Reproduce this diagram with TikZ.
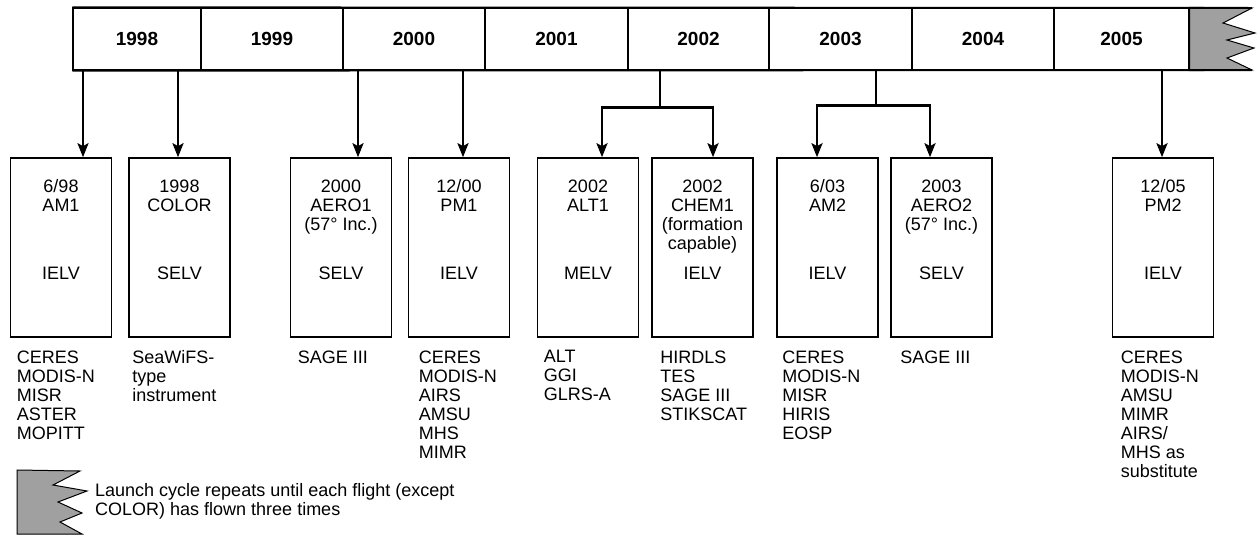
\documentclass[tikz,border=0pt]{standalone}
\usepackage{fontspec}
\setmainfont{Liberation Sans}
\usetikzlibrary{arrows.meta}
\definecolor{flaggray}{RGB}{160,160,160}
\tikzset{
  ycell/.style={draw, line width=1.3pt, minimum height=62pt, inner sep=0pt,
    font=\fontsize{19}{20}\selectfont\bfseries},
  fbox/.style={draw, line width=1.6pt, minimum width=101pt, minimum height=179pt, inner sep=0pt},
  toptxt/.style={inner sep=0pt, align=center, font=\fontsize{18}{19}\selectfont},
  listtxt/.style={inner sep=0pt, align=left, font=\fontsize{18}{19}\selectfont},
  conn/.style={line width=2.6pt},
  arr/.style={line width=2.6pt, -{Stealth[length=14pt,width=11pt,inset=3pt]}},
  flagshape/.style={fill=flaggray, draw, line width=1pt, line join=miter}
}
\newcommand\flightbox[6]{%
  \node[fbox] (#1) at (#2,247.5) {};
  \node[toptxt, anchor=north] (#1t) at ([yshift=-22.5pt]#1.north) {#3};
  \node[toptxt] (#1m) at ([yshift=-25.5pt]#1.center) {#4};
  \node[listtxt, anchor=north west] (#1l) at ([xshift=#5pt,yshift=-12.5pt]#1.south west) {#6};
}
\begin{document}
\begin{tikzpicture}[x=1pt, y=-1pt]
\useasboundingbox (0,0) rectangle (1259,536);
% timeline bar
\node[ycell, minimum width=128pt] (y1998) at (137,39) {1998};
\node[ycell, minimum width=142pt] (y1999) at (272,39) {1999};
\node[ycell, minimum width=142pt] (y2000) at (414,39) {2000};
\node[ycell, minimum width=143pt] (y2001) at (556.5,39) {2001};
\node[ycell, minimum width=141pt] (y2002) at (698.5,39) {2002};
\node[ycell, minimum width=143pt] (y2003) at (840.5,39) {2003};
\node[ycell, minimum width=142pt] (y2004) at (983,39) {2004};
\node[ycell, minimum width=135pt] (y2005) at (1121.5,39) {2005};
\filldraw[flagshape] (y2005.north east) -- (1252,8) -- (1223,23) -- (1255,33) -- (1227,40)
  -- (1254,48) -- (1227,58) -- (1252,70) -- (y2005.south east) -- cycle;
\draw[line width=2pt] (y1998.north west) -- (1252,8);
\draw[line width=2pt] (y1998.south west) -- (1252,70);
% flight boxes
\flightbox{b1}{61}{6/98\\AM1}{IELV}{7}{CERES\\MODIS-N\\MISR\\ASTER\\MOPITT}
\flightbox{b2}{179.5}{1998\\COLOR}{SELV}{4}{SeaWiFS-\\type\\instrument}
\flightbox{b3}{341}{2000\\AERO1\\(57° Inc.)}{SELV}{8}{SAGE III}
\flightbox{b4}{459}{12/00\\PM1}{IELV}{11}{CERES\\MODIS-N\\AIRS\\AMSU\\MHS\\MIMR}
\flightbox{b5}{588}{2002\\ALT1}{MELV}{7}{ALT\\GGI\\GLRS-A}
\flightbox{b6}{702.5}{2002\\CHEM1\\(formation\\capable)}{IELV}{9}{HIRDLS\\TES\\SAGE III\\STIKSCAT}
\flightbox{b7}{827.5}{6/03\\AM2}{IELV}{6}{CERES\\MODIS-N\\MISR\\HIRIS\\EOSP}
\flightbox{b8}{941.5}{2003\\AERO2\\(57° Inc.)}{SELV}{10}{SAGE III}
\flightbox{b9}{1163}{12/05\\PM2}{IELV}{9}{CERES\\MODIS-N\\AMSU\\MIMR\\AIRS/\\MHS as\\substitute}
% connectors
\draw[arr] ([xshift=-54pt]y1998.south) coordinate (s1) -- (s1 |- b1.north);
\draw[arr] ([xshift=41pt]y1998.south) coordinate (s2) -- (s2 |- b2.north);
\draw[arr] ([xshift=-56pt]y2000.south) coordinate (s3) -- (s3 |- b3.north);
\draw[arr] ([xshift=49pt]y2000.south) coordinate (s4) -- (s4 |- b4.north);
\draw[conn] ([xshift=-38.5pt]y2002.south) -- ++(0,37) coordinate (j5);
\draw[arr] (j5) -| ([xshift=14pt]b5.north);
\draw[arr] (j5) -| ([xshift=10.5pt]b6.north);
\draw[conn] ([xshift=35.5pt]y2003.south) -- ++(0,35) coordinate (j7);
\draw[arr] (j7) -| ([xshift=-10.5pt]b7.north);
\draw[arr] (j7) -| ([xshift=-11.5pt]b8.north);
\draw[arr] ([xshift=40.5pt]y2005.south) coordinate (s9) -- (s9 |- b9.north);
% legend
\filldraw[flagshape] (17,470) -- (80,471) -- (53,485) -- (87,491) -- (58,502) -- (82,513)
  -- (60,522) -- (82,534) -- (17,534) -- cycle;
\node[listtxt, anchor=north west] (legend) at (95,483.5)
  {Launch cycle repeats until each flight (except\\COLOR) has flown three times};
\end{tikzpicture}
\end{document}
